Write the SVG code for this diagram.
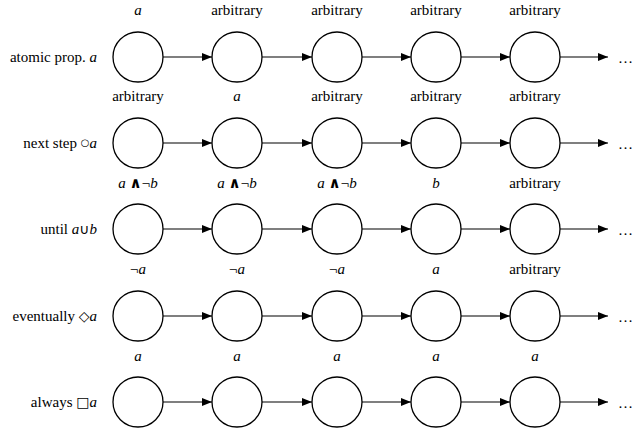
<svg xmlns="http://www.w3.org/2000/svg" width="632" height="435" viewBox="0 0 632 435" font-family="'Liberation Serif', 'DejaVu Serif', serif" font-size="15">
<style>
text{font-family:'Liberation Serif','DejaVu Serif',serif;font-size:15px;fill:#000}
.t{text-anchor:middle}
.l{text-anchor:end}
.i{font-style:italic}
.s{font-family:'DejaVu Sans',sans-serif;font-style:normal;font-size:14px}
.w{font-family:'DejaVu Sans',sans-serif;font-style:normal;font-size:15px;font-weight:bold}
.c{font-family:'DejaVu Sans',sans-serif;font-style:normal;font-size:10px}
circle{fill:#fff;stroke:#000;stroke-width:1.3}
line{stroke:#000;stroke-width:1.1}
</style>
<defs>
<marker id="ah" viewBox="0 0 10 8" refX="10" refY="4" markerWidth="10" markerHeight="8" markerUnits="userSpaceOnUse" orient="auto">
<path d="M0,0 L10,4 L0,8 z" fill="#000"/>
</marker>
</defs>
<g id="connectors">
<line x1="163" y1="57" x2="212" y2="57" marker-end="url(#ah)"/>
<line x1="262" y1="57" x2="312" y2="57" marker-end="url(#ah)"/>
<line x1="362" y1="57" x2="411" y2="57" marker-end="url(#ah)"/>
<line x1="461" y1="57" x2="510" y2="57" marker-end="url(#ah)"/>
<line x1="560" y1="57" x2="608" y2="57" marker-end="url(#ah)"/>
<line x1="163" y1="143" x2="212" y2="143" marker-end="url(#ah)"/>
<line x1="262" y1="143" x2="312" y2="143" marker-end="url(#ah)"/>
<line x1="362" y1="143" x2="411" y2="143" marker-end="url(#ah)"/>
<line x1="461" y1="143" x2="510" y2="143" marker-end="url(#ah)"/>
<line x1="560" y1="143" x2="608" y2="143" marker-end="url(#ah)"/>
<line x1="163" y1="229" x2="212" y2="229" marker-end="url(#ah)"/>
<line x1="262" y1="229" x2="312" y2="229" marker-end="url(#ah)"/>
<line x1="362" y1="229" x2="411" y2="229" marker-end="url(#ah)"/>
<line x1="461" y1="229" x2="510" y2="229" marker-end="url(#ah)"/>
<line x1="560" y1="229" x2="608" y2="229" marker-end="url(#ah)"/>
<line x1="163" y1="316" x2="212" y2="316" marker-end="url(#ah)"/>
<line x1="262" y1="316" x2="312" y2="316" marker-end="url(#ah)"/>
<line x1="362" y1="316" x2="411" y2="316" marker-end="url(#ah)"/>
<line x1="461" y1="316" x2="510" y2="316" marker-end="url(#ah)"/>
<line x1="560" y1="316" x2="608" y2="316" marker-end="url(#ah)"/>
<line x1="163" y1="402" x2="212" y2="402" marker-end="url(#ah)"/>
<line x1="262" y1="402" x2="312" y2="402" marker-end="url(#ah)"/>
<line x1="362" y1="402" x2="411" y2="402" marker-end="url(#ah)"/>
<line x1="461" y1="402" x2="510" y2="402" marker-end="url(#ah)"/>
<line x1="560" y1="402" x2="608" y2="402" marker-end="url(#ah)"/>
</g>
<g id="row1">
<text class="l" x="97" y="62">atomic prop. <tspan class="i">a</tspan></text>
<g id="n11"><circle cx="138" cy="57" r="25"/><text class="t i" x="138" y="15">a</text></g>
<g id="n12"><circle cx="237" cy="57" r="25"/><text class="t" x="237" y="15">arbitrary</text></g>
<g id="n13"><circle cx="337" cy="57" r="25"/><text class="t" x="337" y="15">arbitrary</text></g>
<g id="n14"><circle cx="436" cy="57" r="25"/><text class="t" x="436" y="15">arbitrary</text></g>
<g id="n15"><circle cx="535" cy="57" r="25"/><text class="t" x="535" y="15">arbitrary</text></g>
<text x="618" y="63">…</text>
</g>
<g id="row2">
<text class="l" x="97" y="148">next step <tspan class="c" dy="-2">○</tspan><tspan class="i" dy="2">a</tspan></text>
<g id="n21"><circle cx="138" cy="143" r="25"/><text class="t" x="138" y="101">arbitrary</text></g>
<g id="n22"><circle cx="237" cy="143" r="25"/><text class="t i" x="237" y="101">a</text></g>
<g id="n23"><circle cx="337" cy="143" r="25"/><text class="t" x="337" y="101">arbitrary</text></g>
<g id="n24"><circle cx="436" cy="143" r="25"/><text class="t" x="436" y="101">arbitrary</text></g>
<g id="n25"><circle cx="535" cy="143" r="25"/><text class="t" x="535" y="101">arbitrary</text></g>
<text x="618" y="149">…</text>
</g>
<g id="row3">
<text class="l" x="97" y="234">until <tspan class="i">a</tspan><tspan class="s">∪</tspan><tspan class="i">b</tspan></text>
<g id="n31"><circle cx="138" cy="229" r="25"/><text class="t" x="138" y="188"><tspan class="i">a</tspan> <tspan class="w">∧</tspan>¬<tspan class="i">b</tspan></text></g>
<g id="n32"><circle cx="237" cy="229" r="25"/><text class="t" x="237" y="188"><tspan class="i">a</tspan> <tspan class="w">∧</tspan>¬<tspan class="i">b</tspan></text></g>
<g id="n33"><circle cx="337" cy="229" r="25"/><text class="t" x="337" y="188"><tspan class="i">a</tspan> <tspan class="w">∧</tspan>¬<tspan class="i">b</tspan></text></g>
<g id="n34"><circle cx="436" cy="229" r="25"/><text class="t i" x="436" y="188">b</text></g>
<g id="n35"><circle cx="535" cy="229" r="25"/><text class="t" x="535" y="188">arbitrary</text></g>
<text x="618" y="235">…</text>
</g>
<g id="row4">
<text class="l" x="97" y="321">eventually <tspan class="s">◇</tspan><tspan class="i">a</tspan></text>
<g id="n41"><circle cx="138" cy="316" r="25"/><text class="t" x="138" y="274">¬<tspan class="i">a</tspan></text></g>
<g id="n42"><circle cx="237" cy="316" r="25"/><text class="t" x="237" y="274">¬<tspan class="i">a</tspan></text></g>
<g id="n43"><circle cx="337" cy="316" r="25"/><text class="t" x="337" y="274">¬<tspan class="i">a</tspan></text></g>
<g id="n44"><circle cx="436" cy="316" r="25"/><text class="t i" x="436" y="274">a</text></g>
<g id="n45"><circle cx="535" cy="316" r="25"/><text class="t" x="535" y="274">arbitrary</text></g>
<text x="618" y="322">…</text>
</g>
<g id="row5">
<text class="l" x="97" y="407">always <tspan class="s">□</tspan><tspan class="i">a</tspan></text>
<g id="n51"><circle cx="138" cy="402" r="25"/><text class="t i" x="138" y="361">a</text></g>
<g id="n52"><circle cx="237" cy="402" r="25"/><text class="t i" x="237" y="361">a</text></g>
<g id="n53"><circle cx="337" cy="402" r="25"/><text class="t i" x="337" y="361">a</text></g>
<g id="n54"><circle cx="436" cy="402" r="25"/><text class="t i" x="436" y="361">a</text></g>
<g id="n55"><circle cx="535" cy="402" r="25"/><text class="t i" x="535" y="361">a</text></g>
<text x="618" y="408">…</text>
</g>
</svg>
